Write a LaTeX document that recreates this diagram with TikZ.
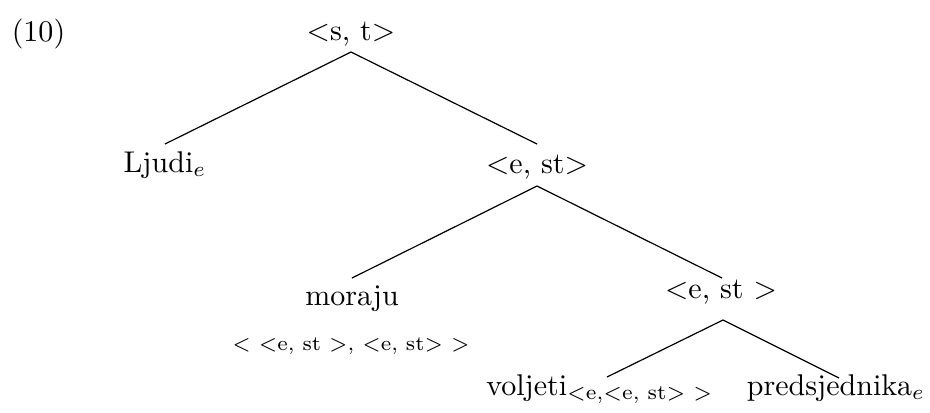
\documentclass[tikz,border=0pt]{standalone}
\usepackage{fontspec}
\begin{document}
\begin{tikzpicture}[x=0.3333pt,y=-0.3333pt,
  lbl/.style={inner sep=0pt, anchor=base, font=\fontsize{10}{12}\selectfont},
  sublbl/.style={inner sep=0pt, anchor=base, font=\fontsize{6.9}{9}\selectfont},
  edge/.style={draw=black, line width=0.4pt}]
\useasboundingbox (0,0) rectangle (930,412);
\node[lbl] (ex) at (38.5,41) {(10)};
\node[lbl] (st) at (351,40) {<s, t>};
\node[lbl] (lj) at (165,172) {Ljudi$_e$};
\node[lbl] (est) at (537,173) {<e, st>};
\node[lbl] (mor) at (352,305) {moraju};
\node[sublbl] (morty) at (351,350) {< <e, st >, <e, st> >};
\node[lbl] (est2) at (721,298) {<e, st >};
\node[lbl] (vol) at (600,395) {voljeti$_{\mbox{\fontsize{7}{8}\selectfont <e,<e, st> >}}$};
\node[lbl] (pred) at (836,395) {predsjednika$_e$};
\draw[edge] ([shift={(0,12)}]st.base) -- ([shift={(0,-28)}]lj.base);
\draw[edge] ([shift={(0,12)}]st.base) -- ([shift={(0,-29)}]est.base);
\draw[edge] ([shift={(0,13)}]est.base) -- ([shift={(0,-27)}]mor.base);
\draw[edge] ([shift={(0,13)}]est.base) -- ([shift={(1,-20)}]est2.base);
\draw[edge] ([shift={(2,22)}]est2.base) -- ([shift={(7,-18)}]vol.base);
\draw[edge] ([shift={(2,22)}]est2.base) -- ([shift={(3,-17)}]pred.base);
\end{tikzpicture}
\end{document}
